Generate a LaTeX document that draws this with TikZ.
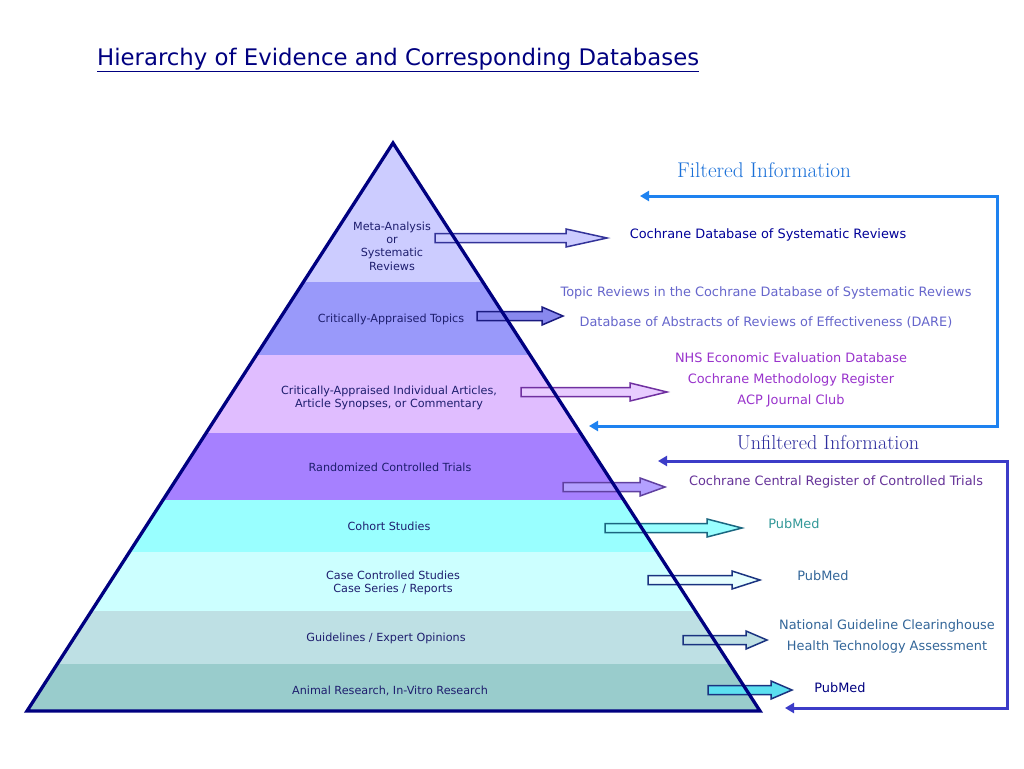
\documentclass[tikz,border=0pt]{standalone}
\usepackage{fontspec}
\setsansfont{DejaVu Sans}
\usetikzlibrary{arrows.meta}
\definecolor{navy}{HTML}{000080}
\definecolor{lblc}{HTML}{1E1E6E}
\definecolor{bandA}{HTML}{CCCCFF}
\definecolor{bandB}{HTML}{9999FA}
\definecolor{bandC}{HTML}{E0BDFF}
\definecolor{bandD}{HTML}{A680FF}
\definecolor{bandE}{HTML}{99FFFF}
\definecolor{bandF}{HTML}{CCFFFF}
\definecolor{bandG}{HTML}{BEE0E4}
\definecolor{bandH}{HTML}{99CCCC}
\definecolor{filtc}{HTML}{1E82F0}
\definecolor{filttxt}{HTML}{1A70D8}
\definecolor{unfc}{HTML}{3C3CC8}
\definecolor{unftxt}{HTML}{2E2E9E}
\definecolor{dbnavy}{HTML}{000099}
\definecolor{dbslate}{HTML}{6666CC}
\definecolor{dbpurple}{HTML}{9933CC}
\definecolor{dbrct}{HTML}{663399}
\definecolor{dbteal}{HTML}{339999}
\definecolor{dbsteel}{HTML}{336699}
\definecolor{arrA}{HTML}{333399}
\definecolor{arrB}{HTML}{1A1A80}
\definecolor{arrC}{HTML}{7030A0}
\definecolor{arrD}{HTML}{6040A0}
\definecolor{arrE}{HTML}{1A6680}
\definecolor{arrF}{HTML}{1A3380}
\definecolor{fillB}{HTML}{8888EE}
\definecolor{fillC}{HTML}{E8CCFF}
\definecolor{fillD}{HTML}{B3A0FF}
\definecolor{fillF}{HTML}{E6FFFF}
\definecolor{fillH}{HTML}{5CE0F0}
\newcommand\blkarrow[6]{%
  \draw[fill=#1,draw=#2,line width=1.5pt,line join=miter]
    (#3,#6-4.5) -- (#4,#6-4.5) -- (#4,#6-9) -- (#5,#6) -- (#4,#6+9) -- (#4,#6+4.5) -- (#3,#6+4.5) -- cycle;}
\tikzset{
  lvl/.style={font=\sffamily\fontsize{11.2}{13.4}\selectfont, text=lblc, align=center, inner sep=0pt},
  db/.style={font=\sffamily\fontsize{12.9}{21}\selectfont, align=center, inner sep=0pt},
  head/.style={inner sep=0pt},
  bracket/.style={line width=3pt, {Triangle[length=9pt,width=10pt]}-{Triangle[length=9pt,width=10pt]}, line join=miter}
}
\begin{document}
\begin{tikzpicture}[x=1pt,y=-1pt]
\useasboundingbox (0,0) rectangle (1024,768);
\fill[white] (0,0) rectangle (1024,768);
% title
\node[font=\sffamily\fontsize{22.8}{26}\selectfont, text=navy, anchor=west, inner sep=0pt] (title) at (97,60)
  {\underline{Hierarchy of Evidence and Corresponding Databases}};
% pyramid
\coordinate (apex) at (393,143);
\coordinate (bl) at (27,711);
\coordinate (br) at (760,711);
\begin{scope}
\clip (apex) -- (bl) -- (br) -- cycle;
\fill[bandA] (0,140) rectangle (1024,282);
\fill[bandB] (0,282) rectangle (1024,355);
\fill[bandC] (0,355) rectangle (1024,433);
\fill[bandD] (0,433) rectangle (1024,500);
\fill[bandE] (0,500) rectangle (1024,552);
\fill[bandF] (0,552) rectangle (1024,611);
\fill[bandG] (0,611) rectangle (1024,664);
\fill[bandH] (0,664) rectangle (1024,715);
\end{scope}
% level labels
\node[lvl] (l1) at (392,246) {Meta-Analysis\\or\\Systematic\\Reviews};
\node[lvl] (l2) at (391,319) {Critically-Appraised Topics};
\node[lvl] (l3) at (389,398) {Critically-Appraised Individual Articles,\\Article Synopses, or Commentary};
\node[lvl] (l4) at (390,467) {Randomized Controlled Trials};
\node[lvl] (l5) at (389,526) {Cohort Studies};
\node[lvl] (l6) at (393,583) {Case Controlled Studies\\Case Series / Reports};
\node[lvl] (l7) at (386,638) {Guidelines / Expert Opinions};
\node[lvl] (l8) at (390,691) {Animal Research, In-Vitro Research};
% block arrows
\blkarrow{bandA}{arrA}{435}{566}{607}{238}
\blkarrow{fillB}{arrB}{477}{542}{563}{316}
\blkarrow{fillC}{arrC}{521}{630}{667}{392}
\blkarrow{fillD}{arrD}{563}{640}{665}{487}
\blkarrow{bandE}{arrE}{605}{707}{742}{528}
\blkarrow{fillF}{arrF}{648}{732}{760}{580}
\blkarrow{bandG}{arrF}{683}{746}{767}{640}
\blkarrow{fillH}{arrF}{708}{771}{792}{690}
% pyramid outline
\draw[navy, line width=3.3pt, line join=miter] (apex) -- (bl) -- (br) -- cycle;
% databases
\node[db, text=dbnavy] (d1) at (768,235) {Cochrane Database of Systematic Reviews};
\node[db, text=dbslate] (d2) at (766,293) {Topic Reviews in the Cochrane Database of Systematic Reviews};
\node[db, text=dbslate] (d3) at (766,322) {Database of Abstracts of Reviews of Effectiveness (DARE)};
\node[db, text=dbpurple] (d4) at (791,380) {NHS Economic Evaluation Database\\Cochrane Methodology Register\\ACP Journal Club};
\node[db, text=dbrct] (d5) at (836,482) {Cochrane Central Register of Controlled Trials};
\node[db, text=dbteal] (d6) at (794,524) {PubMed};
\node[db, text=dbsteel] (d7) at (823,576) {PubMed};
\node[db, text=dbsteel] (d8) at (887,636) {National Guideline Clearinghouse\\Health Technology Assessment};
\node[db, text=navy] (d9) at (840,688) {PubMed};
% filtered / unfiltered
\node[head, font=\fontsize{21.3}{24}\selectfont, text=filttxt] (filt) at (764,170) {Filtered Information};
\node[head, font=\fontsize{20.2}{24}\selectfont, text=unftxt] (unf) at (828,443) {Unfiltered Information};
\coordinate (f1) at (640,196);
\coordinate (f2) at (997,196);
\coordinate (f3) at (997,426);
\coordinate (f4) at (589,426);
\draw[bracket, filtc] (f1) -- (f2) -- (f3) -- (f4);
\coordinate (u1) at (658,461);
\coordinate (u2) at (1007,461);
\coordinate (u3) at (1007,708);
\coordinate (u4) at (785,708);
\draw[bracket, unfc] (u1) -- (u2) -- (u3) -- (u4);
\end{tikzpicture}
\end{document}
